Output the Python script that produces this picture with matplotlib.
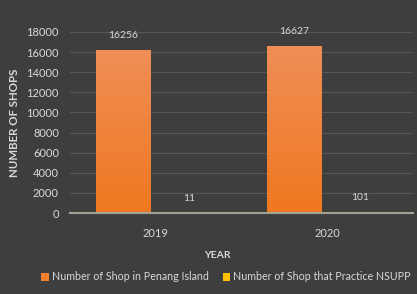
import matplotlib
matplotlib.use("Agg")
import matplotlib.pyplot as plt
import numpy as np
from matplotlib.patches import Patch
from matplotlib.colors import LinearSegmentedColormap

years = ["2019", "2020"]
shops_penang = [16256, 16627]
shops_nsupp = [11, 101]
series_names = ["Number of Shop in Penang Island", "Number of Shop that Practice NSUPP"]
y_ticks = [0, 2000, 4000, 6000, 8000, 10000, 12000, 14000, 16000, 18000]

plt.rcParams['font.family'] = ['Lato', 'DejaVu Sans']

BG = '#3e3e3e'
TXT = '#d9d9d9'
ORANGE = '#F2802E'
YELLOW = '#FFC000'

fig = plt.figure(figsize=(4.17, 2.94), dpi=100, facecolor=BG)
ax = fig.add_axes([70/417, 1-213/294, 343/417, (213-32)/294], facecolor=BG)

x = np.arange(len(years))
w = 0.315
off = w/2 + 0.035
b1 = ax.bar(x - off, shops_penang, w, color=ORANGE, edgecolor='#c8652a', linewidth=0.5, zorder=3)
b2 = ax.bar(x + off, shops_nsupp, w, color=YELLOW, edgecolor=YELLOW, linewidth=0.5, zorder=3)

# vertical gradient on orange bars
cmap = LinearSegmentedColormap.from_list('og', ['#F07820', '#EF8E56'])
grad = np.linspace(0, 1, 256).reshape(-1, 1)
for r in b1:
    x0, y0, bw, bh = r.get_x(), r.get_y(), r.get_width(), r.get_height()
    im = ax.imshow(grad, cmap=cmap, extent=[x0, x0 + bw, y0, y0 + bh], origin='lower',
                   aspect='auto', zorder=3.5)
    im.set_clip_path(r)

for bars, vals in ((b1, shops_penang), (b2, shops_nsupp)):
    for r, v in zip(bars, vals):
        ax.annotate(str(v), (r.get_x() + r.get_width()/2, v), xytext=(0, 7),
                    textcoords='offset points', ha='center', va='bottom',
                    color=TXT, fontsize=7.5)

ax.set_xlim(-0.5, 1.5)
ax.set_ylim(0, 18000)
ax.set_yticks(y_ticks)
ax.set_yticklabels([str(t) for t in y_ticks])
ax.set_xticks(x)
ax.set_xticklabels(years)
ax.tick_params(axis='y', length=0, pad=8, labelcolor=TXT, labelsize=8)
ax.tick_params(axis='x', length=0, pad=11, labelcolor=TXT, labelsize=8)
ax.yaxis.grid(True, color='#575757', linewidth=0.8, zorder=0)
ax.set_axisbelow(True)
for s in ['top', 'right', 'left']:
    ax.spines[s].set_visible(False)
ax.spines['bottom'].set_color('#a3a393')
ax.spines['bottom'].set_linewidth(1.5)
ax.spines['bottom'].set_zorder(4)

fig.text(15/417, 1-123/294, "NUMBER OF SHOPS", rotation=90, ha='center', va='center',
         color=TXT, fontsize=8.3, fontweight='bold')
fig.text(217/417, 1-255/294, "YEAR", ha='center', va='center',
         color=TXT, fontsize=7.5, fontweight='bold')

handles = [Patch(facecolor=ORANGE), Patch(facecolor=YELLOW)]
leg = fig.legend(handles, series_names, loc='center', bbox_to_anchor=(226/417, 1-277/294),
                 ncol=2, frameon=False, fontsize=7.7, handlelength=0.7, handleheight=0.7,
                 handletextpad=0.3, columnspacing=1.3, labelcolor=TXT)

fig.savefig("out.png", dpi=100, facecolor=BG)
